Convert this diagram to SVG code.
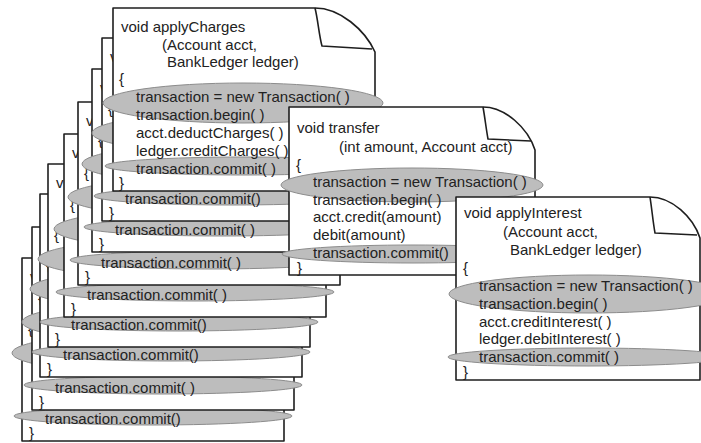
<svg xmlns="http://www.w3.org/2000/svg" xmlns:xlink="http://www.w3.org/1999/xlink" width="701" height="443" viewBox="0 0 701 443">
<style>
.pg { fill:#ffffff; stroke:#1e1e1e; stroke-width:1.6; stroke-linejoin:round; }
.fd { fill:none; stroke:#1e1e1e; stroke-width:1.6; stroke-linejoin:round; }
.el { fill:#bdbdbd; stroke:#8c8c8c; stroke-width:1; }
.t { font-family:"Liberation Sans", Arial, Helvetica, sans-serif; font-size:15px; fill:#222222; }
</style>
<defs>
<path id="page" class="pg" d="M0,0 H202 C227,0 252,22 262,44 V183 H0 Z"/>
<path id="fold" class="fd" d="M202,0 C205,12 206,27 209,38 L259,41"/>
<ellipse id="eb" class="el" cx="130" cy="95" rx="140" ry="20"/>
<ellipse id="ec" class="el" cx="131" cy="158" rx="139" ry="9"/>
</defs>
<rect x="0" y="0" width="701" height="443" fill="#ffffff"/>

<g id="stack">
<g id="page8" transform="translate(22,258)">
<use href="#page"/><use href="#fold"/><use href="#eb"/><use href="#ec"/>
<text class="t" x="8" y="24">v</text><text class="t" x="6" y="76">{</text>
<text class="t" x="23" y="166">transaction.commit()</text><text class="t" x="7" y="180">}</text>
</g>
<g id="page7" transform="translate(32,227)">
<use href="#page"/><use href="#fold"/><use href="#eb"/><use href="#ec"/>
<text class="t" x="8" y="24">v</text><text class="t" x="6" y="76">{</text>
<text class="t" x="23" y="166">transaction.commit( )</text><text class="t" x="7" y="180">}</text>
</g>
<g id="page6" transform="translate(40,194)">
<use href="#page"/><use href="#fold"/><use href="#eb"/><use href="#ec"/>
<text class="t" x="8" y="24">v</text><text class="t" x="6" y="76">{</text>
<text class="t" x="23" y="166">transaction.commit()</text><text class="t" x="7" y="180">}</text>
</g>
<g id="page5" transform="translate(48,164)">
<use href="#page"/><use href="#fold"/><use href="#eb"/><use href="#ec"/>
<text class="t" x="8" y="24">v</text><text class="t" x="6" y="76">{</text>
<text class="t" x="23" y="166">transaction.commit()</text><text class="t" x="7" y="180">}</text>
</g>
<g id="page4" transform="translate(64,134)">
<use href="#page"/><use href="#fold"/><use href="#eb"/><use href="#ec"/>
<text class="t" x="8" y="24">v</text><text class="t" x="6" y="76">{</text>
<text class="t" x="23" y="166">transaction.commit( )</text><text class="t" x="7" y="180">}</text>
</g>
<g id="page3" transform="translate(78,102)">
<use href="#page"/><use href="#fold"/><use href="#eb"/><use href="#ec"/>
<text class="t" x="8" y="24">v</text><text class="t" x="6" y="76">{</text>
<text class="t" x="23" y="166">transaction.commit( )</text><text class="t" x="7" y="180">}</text>
</g>
<g id="page2" transform="translate(92,69)">
<use href="#page"/><use href="#fold"/><use href="#eb"/><use href="#ec"/>
<text class="t" x="8" y="24">v</text><text class="t" x="6" y="76">{</text>
<text class="t" x="23" y="166">transaction.commit( )</text><text class="t" x="7" y="180">}</text>
</g>
<g id="page1" transform="translate(102,38)">
<use href="#page"/><use href="#fold"/><use href="#eb"/><use href="#ec"/>
<text class="t" x="8" y="24">v</text><text class="t" x="6" y="76">{</text>
<text class="t" x="23" y="166">transaction.commit()</text><text class="t" x="7" y="180">}</text>
</g>
<g id="applyCharges" transform="translate(113,8)">
<use href="#page"/><use href="#fold"/><use href="#eb"/><use href="#ec"/>
<text class="t" x="8" y="24">void applyCharges</text>
<text class="t" x="49" y="42">(Account acct,</text>
<text class="t" x="54" y="59">BankLedger ledger)</text>
<text class="t" x="6" y="76">{</text>
<text class="t" x="23" y="94">transaction = new Transaction( )</text>
<text class="t" x="23" y="112">transaction.begin( )</text>
<text class="t" x="23" y="130">acct.deductCharges( )</text>
<text class="t" x="23" y="148">ledger.creditCharges( )</text>
<text class="t" x="23" y="166">transaction.commit( )</text>
<text class="t" x="6" y="180">}</text>
</g>
</g>

<g id="transfer">
<path class="pg" d="M289,107 H483 C505,107 528,128 535,150 V275 H289 Z"/>
<path class="fd" d="M483,107 C485,118 486,128 488,139 L531,141"/>
<ellipse class="el" cx="412" cy="185" rx="131" ry="17"/>
<ellipse class="el" cx="413" cy="254" rx="131" ry="9"/>
<text class="t" x="297" y="133">void transfer</text>
<text class="t" x="339" y="152">(int amount, Account acct)</text>
<text class="t" x="296" y="170">{</text>
<text class="t" x="313" y="187">transaction = new Transaction( )</text>
<text class="t" x="313" y="205">transaction.begin( )</text>
<text class="t" x="313" y="222">acct.credit(amount)</text>
<text class="t" x="313" y="240">debit(amount)</text>
<text class="t" x="313" y="258">transaction.commit()</text>
<text class="t" x="297" y="273">}</text>
</g>

<g id="applyInterest">
<path class="pg" d="M456,197 H650 C672,197 693,217 700,238 V380 H456 Z"/>
<path class="fd" d="M650,197 C652,210 653,222 655,233 L697,235"/>
<ellipse class="el" cx="589" cy="294" rx="140" ry="19"/>
<ellipse class="el" cx="588" cy="357" rx="140" ry="9"/>
<text class="t" x="464" y="218">void applyInterest</text>
<text class="t" x="503" y="237">(Account acct,</text>
<text class="t" x="510" y="255">BankLedger ledger)</text>
<text class="t" x="463" y="273">{</text>
<text class="t" x="479" y="291">transaction = new Transaction( )</text>
<text class="t" x="479" y="309">transaction.begin( )</text>
<text class="t" x="479" y="327">acct.creditInterest( )</text>
<text class="t" x="479" y="344">ledger.debitInterest( )</text>
<text class="t" x="479" y="362">transaction.commit( )</text>
<text class="t" x="463" y="377">}</text>
</g>

<g id="connectors"></g>
</svg>
